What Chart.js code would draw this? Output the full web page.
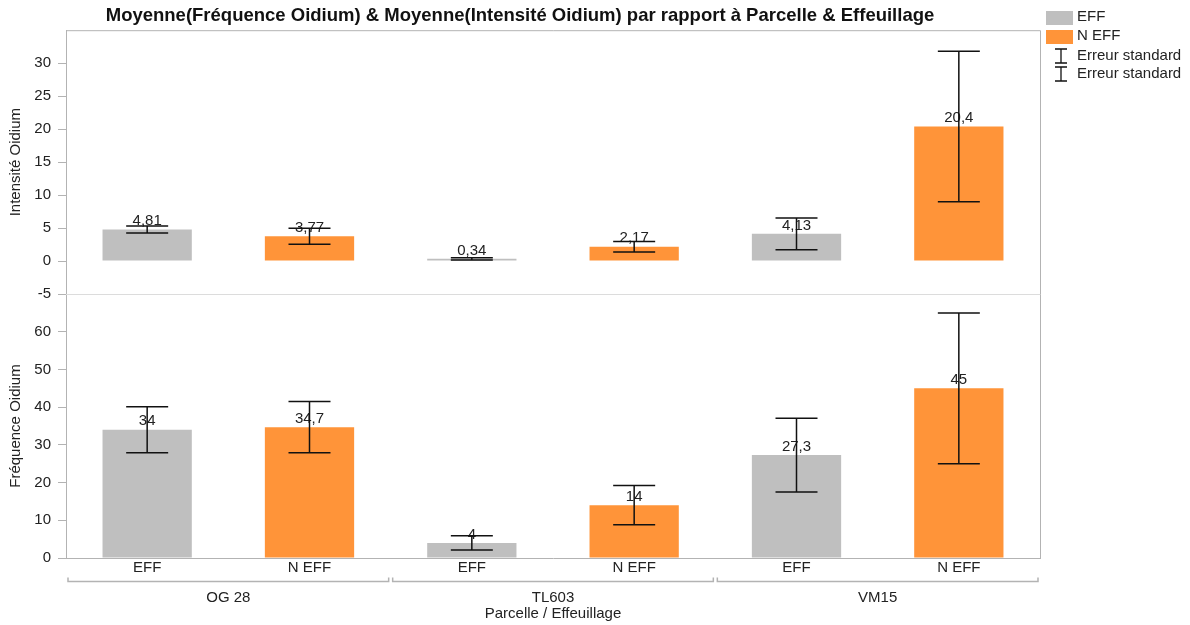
<!DOCTYPE html>
<html>
<head>
<meta charset="UTF-8">
<title>Oidium par parcelle et effeuillage</title>
<script src="https://cdn.jsdelivr.net/npm/chart.js@4.4.0/dist/chart.umd.min.js"></script>
<style>
  html, body { margin: 0; padding: 0; background: #fff; }
  #wrap { width: 1190px; height: 625px; }
</style>
</head>
<body>
<div id="wrap"><canvas id="myChart"></canvas></div>
<script>
var parcelles = ['OG 28', 'TL603', 'VM15']
var effeuillage = ['EFF', 'N EFF']
var couleurs = ['#bfbfbf', '#ff9439']

// ordre : OG 28 EFF, OG 28 N EFF, TL603 EFF, ...
var intensite = [4.81, 3.77, 0.34, 2.17, 4.13, 20.4]
var intensiteErr = [0.53, 1.2, 0.17, 0.8, 2.4, 11.4]
var frequence = [34, 34.7, 4, 14, 27.3, 45]
var frequenceErr = [6.1, 6.8, 1.9, 5.2, 9.8, 20]

var intensiteTicks = [-5, 0, 5, 10, 15, 20, 25, 30]
var frequenceTicks = [0, 10, 20, 30, 40, 50, 60]

var labels = []
var barColors = []
parcelles.forEach(function(p) {
    effeuillage.forEach(function(e, j) {
        labels.push(e)
        barColors.push(couleurs[j])
    })
})

var police = '"Liberation Sans", Arial, sans-serif'
Chart.defaults.font.family = police
Chart.defaults.font.size = 15
Chart.defaults.color = '#222'

function fmt(v) {
    return String(v).replace('.', ',')
}

// valeurs au-dessus des barres + barres d'erreur
var errorBars = {
    id: 'errorBars',
    afterDatasetsDraw: function(chart) {
        var ctx = chart.ctx
        chart.data.datasets.forEach(function(ds, d) {
            var meta = chart.getDatasetMeta(d)
            var scale = chart.scales[ds.yAxisID]
            meta.data.forEach(function(bar, i) {
                var v = ds.data[i]
                ctx.save()
                ctx.fillStyle = '#222'
                ctx.font = '15px ' + police
                ctx.textAlign = 'center'
                ctx.textBaseline = 'bottom'
                ctx.fillText(fmt(v), bar.x, bar.y - 1)

                var hi = scale.getPixelForValue(v + ds.errors[i])
                var lo = scale.getPixelForValue(v - ds.errors[i])
                ctx.strokeStyle = '#111'
                ctx.lineWidth = 1.5
                ctx.beginPath()
                ctx.moveTo(bar.x, hi)
                ctx.lineTo(bar.x, lo)
                ctx.moveTo(bar.x - 21, hi)
                ctx.lineTo(bar.x + 21, hi)
                ctx.moveTo(bar.x - 21, lo)
                ctx.lineTo(bar.x + 21, lo)
                ctx.stroke()
                ctx.restore()
            })
        })
    }
}

// cadre, séparation des deux panneaux, accolades des parcelles, légende
var decor = {
    id: 'decor',
    beforeDatasetsDraw: function(chart) {
        var ctx = chart.ctx
        var a = chart.chartArea
        ctx.save()
        ctx.strokeStyle = '#dcdcdc'
        ctx.lineWidth = 1
        ctx.beginPath()
        var yb = Math.round(chart.scales.yI.bottom) + 0.5
        ctx.moveTo(a.left, yb)
        ctx.lineTo(a.right, yb)
        ctx.stroke()
        ctx.strokeStyle = '#b3b3b3'
        ctx.beginPath()
        ctx.moveTo(a.left, a.top + 0.5)
        ctx.lineTo(a.right + 0.5, a.top + 0.5)
        ctx.lineTo(a.right + 0.5, a.bottom)
        ctx.stroke()
        ctx.restore()
    },
    afterDraw: function(chart) {
        var ctx = chart.ctx
        var xg = chart.scales.xg
        var w = (xg.right - xg.left) / parcelles.length
        ctx.save()
        ctx.strokeStyle = '#b3b3b3'
        ctx.lineWidth = 1.5
        var y = xg.top + 5.5
        parcelles.forEach(function(p, i) {
            var l = xg.left + i * w + 2
            var r = xg.left + (i + 1) * w - 2
            ctx.beginPath()
            ctx.moveTo(l, y - 4)
            ctx.lineTo(l, y)
            ctx.lineTo(r, y)
            ctx.lineTo(r, y - 4)
            ctx.stroke()
        })
        ctx.restore()

        // légende
        var x0 = chart.chartArea.right + 6
        ctx.save()
        ctx.font = '15px ' + police
        ctx.fillStyle = '#222'
        ctx.textBaseline = 'middle'
        effeuillage.forEach(function(e, j) {
            ctx.fillStyle = couleurs[j]
            ctx.fillRect(x0, 11 + j * 19, 27, 14)
            ctx.fillStyle = '#222'
            ctx.fillText(e, x0 + 31, 17 + j * 19)
        })
        ;['Erreur standard', 'Erreur standard'].forEach(function(t, k) {
            var cy = 56 + k * 18
            var cx = x0 + 15
            ctx.strokeStyle = '#111'
            ctx.lineWidth = 1.3
            ctx.beginPath()
            ctx.moveTo(cx, cy - 7)
            ctx.lineTo(cx, cy + 7)
            ctx.moveTo(cx - 6, cy - 7)
            ctx.lineTo(cx + 6, cy - 7)
            ctx.moveTo(cx - 6, cy + 7)
            ctx.lineTo(cx + 6, cy + 7)
            ctx.stroke()
            ctx.fillText(t, x0 + 31, cy)
        })
        ctx.restore()
    }
}

function setTicks(list) {
    return function(scale) {
        scale.ticks = list.map(function(v) { return { value: v } })
    }
}

var ctx = document.getElementById('myChart').getContext('2d')
var chart = new Chart(ctx, {
    type: 'bar',
    data: {
        labels: labels,
        datasets: [{
            label: 'Moyenne(Intensité Oidium)',
            data: intensite,
            errors: intensiteErr,
            yAxisID: 'yI',
            backgroundColor: barColors,
            grouped: false,
            barPercentage: 0.55,
            categoryPercentage: 1
        }, {
            label: 'Moyenne(Fréquence Oidium)',
            data: frequence,
            errors: frequenceErr,
            yAxisID: 'yF',
            backgroundColor: barColors,
            grouped: false,
            barPercentage: 0.55,
            categoryPercentage: 1
        }]
    },
    options: {
        responsive: true,
        maintainAspectRatio: false,
        animation: false,
        layout: { padding: { left: 0, right: 150, top: 0, bottom: 0 } },
        plugins: {
            legend: { display: false },
            tooltip: { enabled: false },
            title: {
                display: true,
                text: 'Moyenne(Fréquence Oidium) & Moyenne(Intensité Oidium) par rapport à Parcelle & Effeuillage',
                font: { size: 18.5, weight: 'bold' },
                color: '#111',
                padding: { top: 5, bottom: 3 }
            }
        },
        scales: {
            x: {
                position: 'bottom',
                grid: { display: false, drawTicks: false },
                border: { display: true, color: '#b3b3b3' },
                ticks: { padding: 1, color: '#222' },
                afterFit: function(s) { s.height = 18 }
            },
            xg: {
                type: 'category',
                labels: parcelles,
                position: 'bottom',
                offset: true,
                grid: { display: false, drawTicks: false },
                border: { display: false },
                ticks: { padding: 13, color: '#222' },
                title: {
                    display: true,
                    text: 'Parcelle / Effeuillage',
                    color: '#222',
                    padding: { top: 0, bottom: 2 }
                },
                afterFit: function(s) { s.height = 49 }
            },
            yF: {
                type: 'linear',
                position: 'left',
                stack: 'panneaux',
                stackWeight: 1,
                min: 0,
                max: 70,
                afterBuildTicks: setTicks(frequenceTicks),
                grid: { drawOnChartArea: false, tickLength: 8, color: '#b3b3b3' },
                border: { display: true, color: '#b3b3b3' },
                ticks: { padding: 7, color: '#222' },
                title: { display: true, text: 'Fréquence Oidium', color: '#222', padding: { top: 7, bottom: 0 } },
                afterFit: function(s) { s.width = 66 }
            },
            yI: {
                type: 'linear',
                position: 'left',
                stack: 'panneaux',
                stackWeight: 1,
                min: -5,
                max: 35,
                afterBuildTicks: setTicks(intensiteTicks),
                grid: { drawOnChartArea: false, tickLength: 8, color: '#b3b3b3' },
                border: { display: true, color: '#b3b3b3' },
                ticks: { padding: 7, color: '#222' },
                title: { display: true, text: 'Intensité Oidium', color: '#222', padding: { top: 7, bottom: 0 } },
                afterFit: function(s) { s.width = 66 }
            }
        }
    },
    plugins: [decor, errorBars]
})
</script>
</body>
</html>
